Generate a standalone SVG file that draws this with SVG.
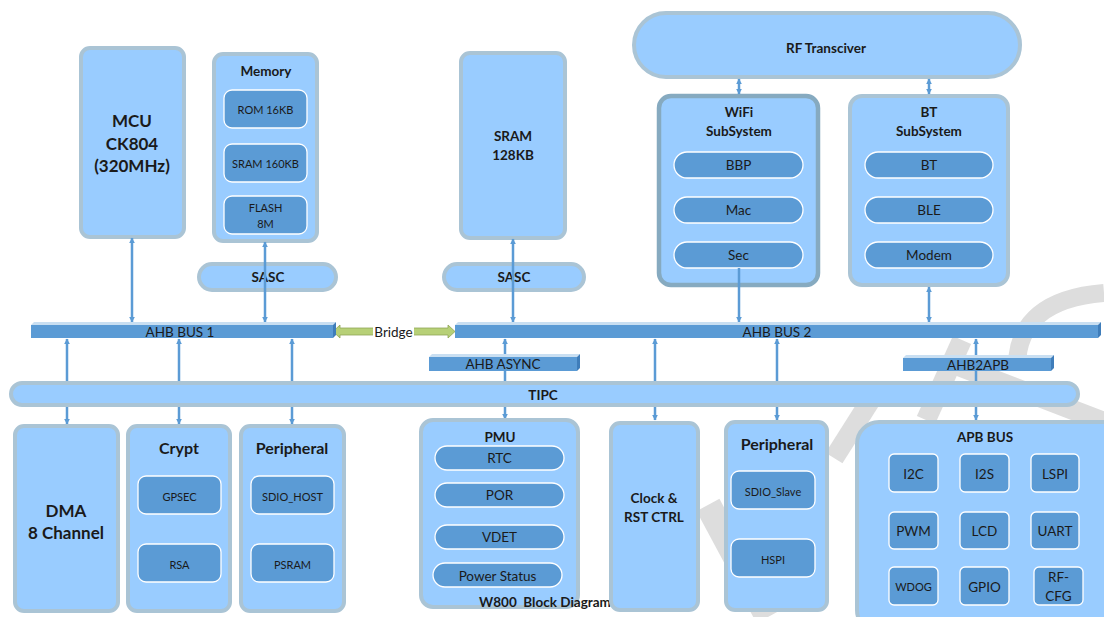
<svg xmlns="http://www.w3.org/2000/svg" width="1104" height="617" viewBox="0 0 1104 617">
<style>
.lb{fill:#99CCFF;stroke:#AAC4D5;stroke-width:4}
.wf{fill:#99CCFF;stroke:#86AAC0;stroke-width:4.5}
.dk{fill:#5B9BD5;stroke:#FFFFFF;stroke-width:1.3}
.t{font-family:Lato,"Liberation Sans",sans-serif;fill:#1A1A1A;text-anchor:middle;dominant-baseline:central}
.b{font-weight:bold}
.s11{font-size:11px}.s12{font-size:12px}.s13{font-size:13.5px}.s14{font-size:14px}.s16{font-size:16px}.s17{font-size:17px}
.bar{fill:#5B9BD5}.bev{fill:#C9DFF2}.side{fill:#3F7DBA}
.ln{stroke:#5B9BD5;stroke-width:2.5;fill:none}
.wm{stroke:#DDDDDD;fill:none;stroke-linecap:butt}
</style>
<defs>
<marker id="ah" viewBox="0 0 10 10" refX="9" refY="5" markerWidth="6" markerHeight="6" markerUnits="userSpaceOnUse" orient="auto-start-reverse">
<path d="M0,0 L10,5 L0,10 z" fill="#5B9BD5"/>
</marker>
</defs>
<rect width="1104" height="617" fill="#FFFFFF"/>
<g id="watermark">
<path class="wm" stroke-width="18" d="M1017 365 Q1018 300 1104 293"/>
<line class="wm" stroke-width="20" x1="948" y1="362" x2="1104" y2="422"/>
<line class="wm" stroke-width="20" x1="962" y1="340" x2="926" y2="420"/>
<line class="wm" stroke-width="20" x1="872" y1="398" x2="834" y2="458"/>
<line class="wm" stroke-width="26" x1="708" y1="505" x2="768" y2="617"/>
</g>
<g id="mcu">
<rect class="lb" x="81" y="48" width="103" height="189" rx="9"/>
<text class="t b s17" x="132" y="120">MCU</text>
<text class="t b s17" x="132" y="143">CK804</text>
<text class="t b s17" x="132" y="165">(320MHz)</text>
</g>
<g id="memory">
<rect class="lb" x="214" y="54" width="103" height="187" rx="9"/>
<text class="t b s13" x="266" y="71">Memory</text>
<rect class="dk" x="224" y="90" width="83" height="38" rx="8"/>
<text class="t s11" x="265.5" y="109">ROM 16KB</text>
<rect class="dk" x="224" y="144" width="83" height="38" rx="8"/>
<text class="t s11" x="265.5" y="163">SRAM 160KB</text>
<rect class="dk" x="224" y="196" width="83" height="38" rx="8"/>
<text class="t s11" x="265.5" y="207">FLASH</text>
<text class="t s11" x="265.5" y="223">8M</text>
</g>
<g id="sasc-1">
<rect class="lb" x="199" y="264" width="137" height="26" rx="13"/>
<text class="t b s13" x="268" y="277">SASC</text>
</g>
<g id="sram">
<rect class="lb" x="461" y="53" width="104" height="185" rx="9"/>
<text class="t b s13" x="513" y="136">SRAM</text>
<text class="t b s13" x="513" y="155">128KB</text>
</g>
<g id="sasc-2">
<rect class="lb" x="444" y="264" width="140" height="26" rx="13"/>
<text class="t b s13" x="514" y="277">SASC</text>
</g>
<g id="rf">
<rect class="lb" x="634" y="13" width="386" height="64" rx="32"/>
<text class="t b s13" x="826" y="48">RF Transciver</text>
</g>
<g id="wifi">
<rect class="wf" x="659" y="96" width="159" height="189" rx="12"/>
<text class="t b s13" x="739" y="112">WiFi</text>
<text class="t b s13" x="739" y="131">SubSystem</text>
<rect class="dk" x="674" y="152" width="129" height="26" rx="13"/>
<text class="t s13" x="738.5" y="165">BBP</text>
<rect class="dk" x="674" y="197" width="129" height="26" rx="13"/>
<text class="t s13" x="738.5" y="210">Mac</text>
<rect class="dk" x="674" y="242" width="129" height="26" rx="13"/>
<text class="t s13" x="738.5" y="255">Sec</text>
</g>
<g id="bt">
<rect class="lb" x="850" y="96" width="158" height="189" rx="12"/>
<text class="t b s13" x="929" y="112">BT</text>
<text class="t b s13" x="929" y="131">SubSystem</text>
<rect class="dk" x="865" y="152" width="128" height="26" rx="13"/>
<text class="t s13" x="929" y="165">BT</text>
<rect class="dk" x="865" y="197" width="128" height="26" rx="13"/>
<text class="t s13" x="929" y="210">BLE</text>
<rect class="dk" x="865" y="242" width="128" height="26" rx="13"/>
<text class="t s13" x="929" y="255">Modem</text>
</g>
<g id="connectors">
<line class="ln" x1="739" y1="79" x2="739" y2="94" marker-start="url(#ah)" marker-end="url(#ah)" stroke-width="3.5"/>
<line class="ln" x1="929" y1="79" x2="929" y2="94" marker-start="url(#ah)" marker-end="url(#ah)" stroke-width="3.5"/>
<line class="ln" x1="132" y1="238" x2="132" y2="322" marker-start="url(#ah)" marker-end="url(#ah)"/>
<line class="ln" x1="265" y1="242" x2="265" y2="322" marker-start="url(#ah)" marker-end="url(#ah)"/>
<line class="ln" x1="513" y1="239" x2="513" y2="322" marker-start="url(#ah)" marker-end="url(#ah)"/>
<line class="ln" x1="739" y1="268" x2="739" y2="287" stroke-width="1.2"/>
<line class="ln" x1="739" y1="287" x2="739" y2="322" marker-end="url(#ah)"/>
<line class="ln" x1="929" y1="287" x2="929" y2="322" marker-start="url(#ah)" marker-end="url(#ah)"/>
<line class="ln" x1="67" y1="339" x2="67" y2="424" marker-start="url(#ah)" marker-end="url(#ah)"/>
<line class="ln" x1="179" y1="339" x2="179" y2="424" marker-start="url(#ah)" marker-end="url(#ah)"/>
<line class="ln" x1="292" y1="339" x2="292" y2="424" marker-start="url(#ah)" marker-end="url(#ah)"/>
<line class="ln" x1="505" y1="339" x2="505" y2="419" marker-start="url(#ah)" marker-end="url(#ah)"/>
<line class="ln" x1="655" y1="339" x2="655" y2="420" marker-start="url(#ah)" marker-end="url(#ah)"/>
<line class="ln" x1="777" y1="339" x2="777" y2="420" marker-start="url(#ah)" marker-end="url(#ah)"/>
<line class="ln" x1="976" y1="339" x2="976" y2="420" marker-start="url(#ah)" marker-end="url(#ah)"/>
<polygon points="333,331.5 340,325 340,328 448,328 448,325 455,331.5 448,338 448,335 340,335 340,338" fill="#B7D077" stroke="#8FA655" stroke-width="0.8"/>
<rect x="373" y="324" width="41" height="15" fill="#FFFFFF"/>
<text class="t s13" x="393.5" y="332">Bridge</text>
</g>
<g id="ahb-bus-1">
<polygon class="bev" points="31,325 34,322 336,322 333,325"/>
<polygon class="side" points="333,325 336,322 336,335 333,338"/>
<rect class="bar" x="31" y="325" width="302" height="13"/>
<text class="t s13" x="180" y="332">AHB BUS 1</text>
</g>
<g id="ahb-bus-2">
<polygon class="bev" points="455,325 458,322 1101,322 1098,325"/>
<polygon class="side" points="1098,325 1101,322 1101,335 1098,338"/>
<rect class="bar" x="455" y="325" width="643" height="13"/>
<text class="t s13" x="777" y="332">AHB BUS 2</text>
</g>
<g id="ahb-async">
<polygon class="bev" points="429,357 432,354 580,354 577,357"/>
<polygon class="side" points="577,357 580,354 580,368 577,371"/>
<rect class="bar" x="429" y="357" width="148" height="14"/>
<text class="t s13" x="503" y="364">AHB ASYNC</text>
</g>
<g id="ahb2apb">
<polygon class="bev" points="903,358 906,355 1054,355 1051,358"/>
<polygon class="side" points="1051,358 1054,355 1054,368 1051,371"/>
<rect class="bar" x="903" y="358" width="148" height="13"/>
<text class="t s13" x="978" y="364.5">AHB2APB</text>
</g>
<g id="tipc">
<rect class="lb" x="11" y="383" width="1067" height="22" rx="11"/>
<text class="t b s13" x="543" y="394.5">TIPC</text>
</g>
<g id="dma">
<rect class="lb" x="15" y="426" width="103" height="185" rx="9"/>
<text class="t b s17" x="66" y="510">DMA</text>
<text class="t b s17" x="66" y="532">8 Channel</text>
</g>
<g id="crypt">
<rect class="lb" x="128" y="426" width="102" height="185" rx="9"/>
<text class="t b s16" x="179" y="447">Crypt</text>
<rect class="dk" x="138" y="476" width="83" height="38" rx="8"/>
<text class="t s11" x="179.5" y="496">GPSEC</text>
<rect class="dk" x="138" y="544" width="83" height="38" rx="8"/>
<text class="t s11" x="179.5" y="564">RSA</text>
</g>
<g id="peripheral-1">
<rect class="lb" x="241" y="426" width="103" height="185" rx="9"/>
<text class="t b s16" x="292" y="447">Peripheral</text>
<rect class="dk" x="251" y="476" width="83" height="38" rx="8"/>
<text class="t s11" x="292.5" y="496">SDIO_HOST</text>
<rect class="dk" x="251" y="544" width="83" height="38" rx="8"/>
<text class="t s11" x="292.5" y="564">PSRAM</text>
</g>
<g id="pmu">
<rect class="lb" x="421" y="420" width="157" height="187" rx="12"/>
<text class="t b s13" x="500" y="437">PMU</text>
<rect class="dk" x="435" y="446" width="129" height="24" rx="12"/>
<text class="t s13" x="499.5" y="458">RTC</text>
<rect class="dk" x="435" y="483" width="129" height="24" rx="12"/>
<text class="t s13" x="499.5" y="495">POR</text>
<rect class="dk" x="435" y="525" width="129" height="24" rx="12"/>
<text class="t s13" x="499.5" y="537">VDET</text>
<rect class="dk" x="433" y="563" width="129" height="24" rx="12"/>
<text class="t s13" x="497.5" y="575.5">Power Status</text>
</g>
<g id="title">
<text class="t b s13" x="545" y="602" xml:space="preserve">W800  Block Diagram</text>
</g>
<g id="clock">
<rect class="lb" x="611" y="423" width="87" height="187" rx="9"/>
<text class="t b s13" x="654" y="498">Clock &amp;</text>
<text class="t b s13" x="654" y="517">RST CTRL</text>
</g>
<g id="peripheral-2">
<rect class="lb" x="726" y="422" width="101" height="188" rx="9"/>
<text class="t b s16" x="777" y="443">Peripheral</text>
<rect class="dk" x="731" y="471" width="84" height="38" rx="8"/>
<text class="t s11" x="773" y="491">SDIO_Slave</text>
<rect class="dk" x="731" y="539" width="84" height="38" rx="8"/>
<text class="t s11" x="773" y="559">HSPI</text>
</g>
<g id="apb-bus">
<rect class="lb" x="857" y="422" width="270" height="210" rx="22"/>
<text class="t b s13" x="985" y="437">APB BUS</text>
<rect class="dk" x="889" y="454" width="49" height="38" rx="5"/>
<text class="t s13" x="913.5" y="473.5">I2C</text>
<rect class="dk" x="960" y="454" width="49" height="38" rx="5"/>
<text class="t s13" x="984.5" y="473.5">I2S</text>
<rect class="dk" x="1031" y="454" width="48" height="38" rx="5"/>
<text class="t s13" x="1055" y="473.5">LSPI</text>
<rect class="dk" x="889" y="512" width="49" height="37" rx="5"/>
<text class="t s13" x="913.5" y="531">PWM</text>
<rect class="dk" x="960" y="512" width="49" height="37" rx="5"/>
<text class="t s13" x="984.5" y="531">LCD</text>
<rect class="dk" x="1031" y="512" width="48" height="37" rx="5"/>
<text class="t s13" x="1055" y="531">UART</text>
<rect class="dk" x="889" y="567" width="49" height="38" rx="5"/>
<text class="t s11" x="913.5" y="586.5">WDOG</text>
<rect class="dk" x="960" y="567" width="49" height="38" rx="5"/>
<text class="t s13" x="984.5" y="586.5">GPIO</text>
<rect class="dk" x="1034" y="567" width="49" height="38" rx="5"/>
<text class="t s13" x="1058.5" y="577">RF-</text>
<text class="t s13" x="1058.5" y="596">CFG</text>
</g>
</svg>
